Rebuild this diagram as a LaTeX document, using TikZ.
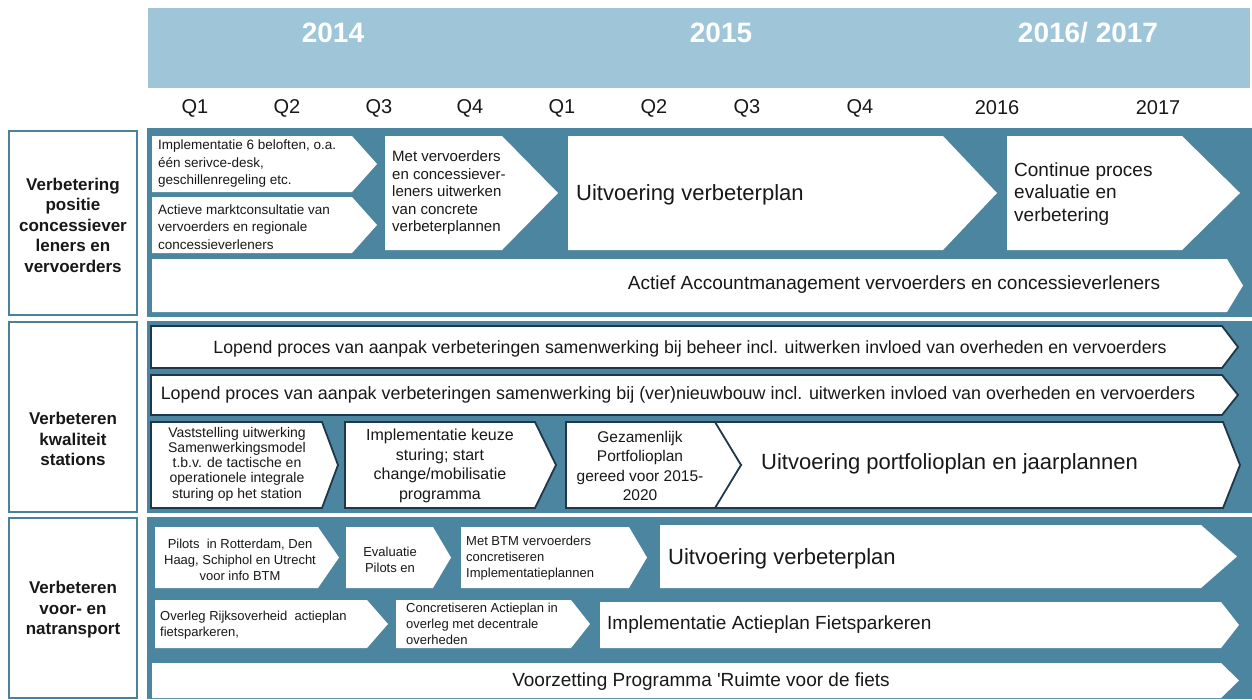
\documentclass[tikz,border=0pt]{standalone}
\usepackage{fontspec}
\setmainfont{Liberation Sans}
\newfontfamily\plainsans{Liberation Sans}
\definecolor{panelblue}{RGB}{76,133,159}
\definecolor{headblue}{RGB}{158,198,216}
\definecolor{frameblue}{RGB}{74,130,158}
\definecolor{darkline}{RGB}{30,56,74}
\definecolor{ink}{RGB}{24,24,24}
\newcommand{\chev}[6][]{\filldraw[shp,#1] (#2,#3) -- (#4,#3) -- (#5,{(#3+#6)/2}) -- (#4,#6) -- (#2,#6) -- cycle;}
\tikzset{
  panel/.style={fill=panelblue, draw=none},
  lblbox/.style={draw=frameblue, line width=2pt, fill=white},
  shp/.style={fill=white, draw=none},
  shpo/.style={draw=darkline, line width=1.8pt},
  txt/.style={text=ink, inner sep=0pt},
  fs/.style 2 args={font=\fontsize{#1}{#2}\selectfont},
  lbl/.style={text=ink, inner sep=0pt, align=center, font=\fontsize{17}{20.5}\selectfont\bfseries},
  year/.style={text=white, inner sep=0pt, font=\fontsize{28}{30}\selectfont\bfseries},
  qtr/.style={text=ink, inner sep=0pt, font=\fontsize{20}{22}\selectfont},
}
\begin{document}
\begin{tikzpicture}[x=1pt,y=-1pt]
\useasboundingbox (0,0) rectangle (1252,699);
\fill[white] (0,0) rectangle (1252,699);
% header
\fill[headblue] (148,8) rectangle (1250,88);
\node[year] (y14) at (333,33) {2014};
\node[year] (y15) at (721,33) {2015};
\node[year] (y1617) at (1088,33) {2016/ 2017};
\node[qtr] (q1a) at (195,108) {Q1};
\node[qtr] (q2a) at (287,108) {Q2};
\node[qtr] (q3a) at (379,108) {Q3};
\node[qtr] (q4a) at (470,108) {Q4};
\node[qtr] (q1b) at (562,108) {Q1};
\node[qtr] (q2b) at (654,108) {Q2};
\node[qtr] (q3b) at (747,108) {Q3};
\node[qtr] (q4b) at (860,108) {Q4};
\node[qtr] (y16) at (997,108) {2016};
\node[qtr] (y17) at (1158,108) {2017};
% panels
\fill[panel] (147,128) rectangle (1252,317);
\fill[panel] (147,321) rectangle (1252,513);
\fill[panel] (147,517) rectangle (1252,699);
% left labels
\draw[lblbox] (9,131) rectangle (137,315);
\draw[lblbox] (9,322) rectangle (137,512);
\draw[lblbox] (9,518) rectangle (137,698);
\node[lbl] (l1) at (73,225) {Verbetering\\positie\\concessiever\\leners en\\vervoerders};
\node[lbl] (l2) at (73,439) {Verbeteren\\kwaliteit\\stations};
\node[lbl] (l3) at (73,610) {Verbeteren\\voor- en\\natransport};
% row 1
\chev{152}{136}{352}{377}{192}
\chev{152}{197}{352}{377}{253}
\chev{385}{136}{502}{558}{250}
\chev{568}{136}{943}{997}{250}
\chev{1007}{136}{1182}{1240}{250}
\chev{152}{259}{1227}{1243}{312}
\node[txt, fs={13.5}{17.5}, anchor=west, align=left] (a1) at (158,164) {Implementatie 6 beloften, o.a.\\één serivce-desk,\\geschillenregeling etc.};
\node[txt, fs={13.5}{17.5}, anchor=west, align=left] (a2) at (158,227) {Actieve marktconsultatie van\\vervoerders en regionale\\concessieverleners};
\node[txt, fs={15}{17.5}, anchor=west, align=left] (a3) at (392,193) {Met vervoerders\\en concessiever-\\leners uitwerken\\van concrete\\verbeterplannen};
\node[txt, fs={22}{26}, anchor=west] (a4) at (576,195) {Uitvoering verbeterplan};
\node[txt, fs={19}{22.5}, anchor=west, align=left] (a5) at (1014,194) {Continue proces\\evaluatie en\\verbetering};
\node[txt, fs={19}{22}] (a6) at (894,285) {Actief Accountmanagement vervoerders en concessieverleners};
% row 2
\chev[shpo]{151}{326}{1222}{1238}{368}
\chev[shpo]{151}{375}{1222}{1238}{415}
\filldraw[shp,shpo] (698,422) -- (1223,422) -- (1240,465) -- (1223,508) -- (698,508) -- (741,465) -- cycle;
\chev[shpo]{566}{422}{715}{741}{508}
\chev[shpo]{345}{422}{535}{556}{508}
\chev[shpo]{151}{422}{322}{338}{508}
\node[txt, fs={17.7}{20}] (b1) at (690,349) {Lopend proces van aanpak verbeteringen samenwerking bij beheer incl. uitwerken invloed van overheden en vervoerders};
\node[txt, fs={17.9}{20}] (b2) at (678,395) {Lopend proces van aanpak verbeteringen samenwerking bij (ver)nieuwbouw incl. uitwerken invloed van overheden en vervoerders};
\node[txt, fs={14}{15.3}, align=center] (b3) at (237,464) {Vaststelling uitwerking\\Samenwerkingsmodel\\t.b.v. de tactische en\\operationele integrale\\sturing op het station};
\node[txt, fs={16}{19.6}, align=center] (b4) at (440,466) {Implementatie keuze\\sturing; start\\change/mobilisatie\\programma};
\node[txt, fs={15.5}{19.3}, align=center] (b5) at (640,466) {Gezamenlijk\\Portfolioplan\\gereed voor 2015-\\2020};
\node[txt, fs={22}{26}, anchor=west] (b6) at (761,464) {Uitvoering portfolioplan en jaarplannen};
% row 3
\chev{155}{527}{318}{339}{588}
\chev{346}{527}{433}{451}{588}
\chev{461}{527}{629}{647}{588}
\chev{660}{525}{1201}{1237}{588}
\chev{155}{600}{367}{388}{648}
\chev{396}{600}{571}{590}{648}
\chev{600}{602}{1221}{1239}{648}
\chev{152}{663}{1221}{1239}{698}
\node[txt, fs={13}{16}, align=center] (c1) at (240,560) {Pilots\ \ in Rotterdam, Den\\Haag, Schiphol en Utrecht\\voor info BTM};
\node[txt, fs={13}{16}, align=center] (c2) at (390,560) {Evaluatie\\Pilots en};
\node[txt, fs={13}{16}, anchor=west, align=left] (c3) at (466,558) {Met BTM vervoerders\\concretiseren\\Implementatieplannen};
\node[txt, fs={22}{26}, anchor=west] (c4) at (668,559) {Uitvoering verbeterplan};
\node[txt, fs={13}{16}, anchor=west, align=left] (c5) at (160,625) {Overleg Rijksoverheid\ \ actieplan\\fietsparkeren,};
\node[txt, fs={13}{16}, anchor=west, align=left] (c6) at (406,624) {Concretiseren Actieplan in\\overleg met decentrale\\overheden};
\node[txt, fs={19}{22}, anchor=west] (c7) at (607,625) {Implementatie Actieplan Fietsparkeren};
\node[txt, font=\plainsans\fontsize{19}{22}\selectfont] (c8) at (701,682) {Voorzetting Programma 'Ruimte voor de fiets};
\end{tikzpicture}
\end{document}
